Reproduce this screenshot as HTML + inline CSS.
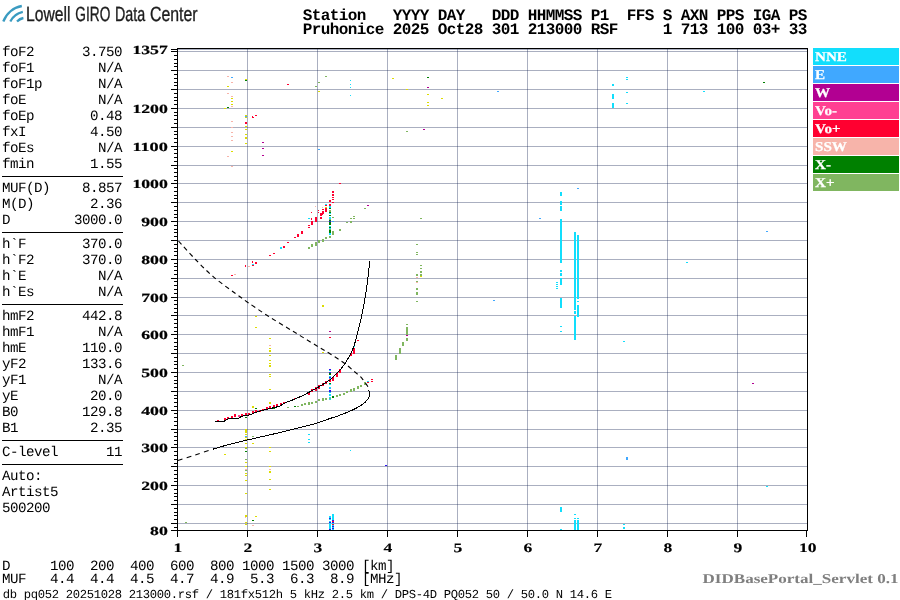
<!DOCTYPE html><html><head><meta charset="utf-8"><title>Ionogram</title><style>html,body{margin:0;padding:0;background:#fff;width:900px;height:600px;overflow:hidden}svg{display:block;will-change:transform;font-family:"Liberation Sans",sans-serif}</style></head><body><svg width="900" height="600" viewBox="0 0 900 600" shape-rendering="crispEdges">
<rect width="900" height="600" fill="#fff"/>
<g fill="rgba(25,39,85,0.37)"><rect x="178" y="523" width="629" height="1"/><rect x="178" y="504" width="629" height="1"/><rect x="178" y="485" width="629" height="1"/><rect x="178" y="466" width="629" height="1"/><rect x="178" y="447" width="629" height="1"/><rect x="178" y="429" width="629" height="1"/><rect x="178" y="410" width="629" height="1"/><rect x="178" y="391" width="629" height="1"/><rect x="178" y="372" width="629" height="1"/><rect x="178" y="353" width="629" height="1"/><rect x="178" y="334" width="629" height="1"/><rect x="178" y="315" width="629" height="1"/><rect x="178" y="297" width="629" height="1"/><rect x="178" y="278" width="629" height="1"/><rect x="178" y="259" width="629" height="1"/><rect x="178" y="240" width="629" height="1"/><rect x="178" y="221" width="629" height="1"/><rect x="178" y="202" width="629" height="1"/><rect x="178" y="183" width="629" height="1"/><rect x="178" y="165" width="629" height="1"/><rect x="178" y="146" width="629" height="1"/><rect x="178" y="127" width="629" height="1"/><rect x="178" y="108" width="629" height="1"/><rect x="178" y="89" width="629" height="1"/><rect x="178" y="70" width="629" height="1"/><rect x="178" y="51" width="629" height="1"/><rect x="178" y="49" width="629" height="1"/><rect x="247" y="49" width="1" height="481"/><rect x="317" y="49" width="1" height="481"/><rect x="387" y="49" width="1" height="481"/><rect x="457" y="49" width="1" height="481"/><rect x="527" y="49" width="1" height="481"/><rect x="597" y="49" width="1" height="481"/><rect x="667" y="49" width="1" height="481"/><rect x="737" y="49" width="1" height="481"/></g>
<g fill="#f7b4aa"><rect x="227" y="76" width="2" height="1"/></g>
<g fill="#40a8ff"><rect x="231" y="77" width="2" height="1"/></g>
<g fill="#f7b4aa"><rect x="231" y="82" width="2" height="1"/></g>
<g fill="#dcdc00"><rect x="227" y="86" width="2" height="1"/></g>
<g fill="#f7b4aa"><rect x="227" y="93" width="2" height="1"/><rect x="231" y="96" width="2" height="1"/></g>
<g fill="#dcdc00"><rect x="231" y="98" width="2" height="1"/><rect x="231" y="101" width="2" height="1"/><rect x="231" y="104" width="2" height="1"/></g>
<g fill="#f7b4aa"><rect x="231" y="106" width="2" height="1"/></g>
<g fill="#008000"><rect x="227" y="107" width="2" height="1"/></g>
<g fill="#dcdc00"><rect x="224" y="108" width="2" height="1"/><rect x="245" y="79" width="2" height="1"/></g>
<g fill="#008000"><rect x="245" y="80" width="2" height="1"/></g>
<g fill="#ff0030"><rect x="287" y="84" width="2" height="1"/></g>
<g fill="#80b660"><rect x="318" y="82" width="2" height="1"/><rect x="315" y="86" width="2" height="1"/></g>
<g fill="#dcdc00"><rect x="318" y="91" width="2" height="1"/><rect x="245" y="115" width="2" height="1"/></g>
<g fill="#40a8ff"><rect x="245" y="116" width="2" height="1"/></g>
<g fill="#dcdc00"><rect x="245" y="117" width="2" height="1"/></g>
<g fill="#ff0030"><rect x="255" y="115" width="2" height="1"/></g>
<g fill="#f7b4aa"><rect x="231" y="121" width="2" height="1"/><rect x="231" y="127" width="2" height="1"/></g>
<g fill="#dcdc00"><rect x="245" y="126" width="2" height="1"/><rect x="245" y="129" width="2" height="1"/></g>
<g fill="#f7b4aa"><rect x="231" y="132" width="2" height="1"/></g>
<g fill="#dcdc00"><rect x="245" y="134" width="2" height="1"/></g>
<g fill="#f7b4aa"><rect x="231" y="136" width="2" height="1"/><rect x="231" y="140" width="2" height="1"/></g>
<g fill="#dcdc00"><rect x="245" y="143" width="2" height="1"/></g>
<g fill="#b20092"><rect x="262" y="142" width="2" height="1"/><rect x="262" y="148" width="2" height="1"/><rect x="262" y="155" width="2" height="1"/></g>
<g fill="#dcdc00"><rect x="231" y="151" width="2" height="1"/></g>
<g fill="#f7b4aa"><rect x="227" y="156" width="2" height="1"/></g>
<g fill="#40a8ff"><rect x="318" y="149" width="2" height="1"/></g>
<g fill="#ff0030"><rect x="252" y="116" width="1" height="2"/><rect x="253" y="117" width="1" height="1"/><rect x="245" y="122" width="2" height="2"/></g>
<g fill="#dcdc00"><rect x="245" y="137" width="2" height="2"/></g>
<g fill="#80b660"><rect x="325" y="76" width="2" height="1"/></g>
<g fill="#12defc"><rect x="350" y="80" width="1" height="1"/><rect x="350" y="84" width="1" height="1"/><rect x="350" y="87" width="1" height="1"/><rect x="350" y="95" width="1" height="1"/></g>
<g fill="#dcdc00"><rect x="392" y="78" width="2" height="1"/></g>
<g fill="#008000"><rect x="427" y="77" width="2" height="1"/></g>
<g fill="#b20092"><rect x="427" y="87" width="2" height="1"/></g>
<g fill="#dcdc00"><rect x="406" y="89" width="2" height="1"/><rect x="427" y="94" width="2" height="1"/><rect x="441" y="98" width="2" height="1"/><rect x="427" y="102" width="2" height="1"/><rect x="427" y="105" width="2" height="1"/></g>
<g fill="#b20092"><rect x="423" y="129" width="2" height="1"/></g>
<g fill="#80b660"><rect x="406" y="131" width="2" height="1"/></g>
<g fill="#40a8ff"><rect x="497" y="91" width="2" height="1"/></g>
<g fill="#12defc"><rect x="612" y="84" width="2" height="2"/><rect x="612" y="94" width="2" height="5"/><rect x="612" y="103" width="2" height="5"/><rect x="626" y="77" width="2" height="1"/><rect x="626" y="79" width="2" height="1"/><rect x="626" y="92" width="2" height="1"/><rect x="626" y="103" width="2" height="1"/><rect x="703" y="91" width="2" height="1"/></g>
<g fill="#008000"><rect x="763" y="82" width="2" height="1"/></g>
<g fill="#f7b4aa"><rect x="231" y="166" width="2" height="1"/></g>
<g fill="#ff0030"><rect x="269" y="255" width="2" height="1"/><rect x="273" y="253" width="2" height="1"/></g>
<g fill="#12defc"><rect x="280" y="247" width="2" height="2"/></g>
<g fill="#ff0030"><rect x="283" y="246" width="2" height="2"/><rect x="287" y="242" width="2" height="1"/><rect x="294" y="237" width="2" height="1"/><rect x="297" y="234" width="2" height="3"/><rect x="301" y="231" width="2" height="3"/></g>
<g fill="#12defc"><rect x="308" y="218" width="2" height="1"/></g>
<g fill="#ff0030"><rect x="308" y="225" width="2" height="1"/><rect x="308" y="227" width="2" height="1"/><rect x="311" y="221" width="2" height="4"/><rect x="311" y="212" width="1" height="1"/><rect x="311" y="218" width="1" height="2"/><rect x="315" y="217" width="2" height="5"/><rect x="318" y="210" width="1" height="1"/><rect x="318" y="212" width="1" height="1"/><rect x="320" y="213" width="2" height="3"/><rect x="320" y="217" width="2" height="2"/></g>
<g fill="#f7b4aa"><rect x="315" y="206" width="1" height="1"/><rect x="322" y="207" width="1" height="1"/></g>
<g fill="#ff0030"><rect x="322" y="214" width="1" height="1"/><rect x="322" y="209" width="2" height="1"/><rect x="322" y="211" width="2" height="3"/></g>
<g fill="#12defc"><rect x="325" y="204" width="2" height="1"/></g>
<g fill="#ff0030"><rect x="325" y="205" width="2" height="1"/></g>
<g fill="#dcdc00"><rect x="325" y="207" width="2" height="1"/></g>
<g fill="#ff0030"><rect x="325" y="208" width="2" height="4"/><rect x="332" y="191" width="2" height="2"/><rect x="332" y="194" width="2" height="2"/><rect x="332" y="197" width="2" height="1"/><rect x="332" y="199" width="2" height="1"/><rect x="332" y="202" width="2" height="1"/><rect x="339" y="183" width="2" height="1"/><rect x="329" y="200" width="2" height="2"/><rect x="329" y="204" width="2" height="2"/></g>
<g fill="#12defc"><rect x="329" y="206" width="2" height="2"/></g>
<g fill="#008000"><rect x="329" y="208" width="2" height="1"/></g>
<g fill="#80b660"><rect x="329" y="210" width="2" height="2"/></g>
<g fill="#008000"><rect x="329" y="212" width="2" height="1"/></g>
<g fill="#12defc"><rect x="329" y="213" width="2" height="1"/></g>
<g fill="#008000"><rect x="329" y="215" width="2" height="1"/></g>
<g fill="#12defc"><rect x="329" y="217" width="2" height="2"/></g>
<g fill="#80b660"><rect x="329" y="219" width="2" height="1"/></g>
<g fill="#008000"><rect x="329" y="220" width="2" height="1"/></g>
<g fill="#2b14f0"><rect x="329" y="221" width="2" height="1"/></g>
<g fill="#008000"><rect x="329" y="222" width="2" height="3"/></g>
<g fill="#12defc"><rect x="329" y="226" width="2" height="1"/></g>
<g fill="#008000"><rect x="329" y="227" width="2" height="1"/></g>
<g fill="#12defc"><rect x="329" y="228" width="2" height="1"/></g>
<g fill="#80b660"><rect x="329" y="229" width="2" height="1"/></g>
<g fill="#008000"><rect x="329" y="230" width="2" height="3"/></g>
<g fill="#12defc"><rect x="329" y="233" width="2" height="2"/></g>
<g fill="#80b660"><rect x="329" y="236" width="2" height="2"/><rect x="332" y="217" width="2" height="1"/></g>
<g fill="#40a8ff"><rect x="332" y="221" width="2" height="1"/></g>
<g fill="#80b660"><rect x="308" y="247" width="2" height="2"/><rect x="311" y="244" width="2" height="3"/><rect x="315" y="242" width="2" height="4"/><rect x="318" y="240" width="2" height="3"/><rect x="322" y="239" width="2" height="3"/><rect x="325" y="237" width="2" height="2"/><rect x="332" y="231" width="2" height="4"/><rect x="339" y="229" width="2" height="2"/><rect x="346" y="222" width="2" height="1"/><rect x="350" y="221" width="2" height="2"/><rect x="350" y="218" width="2" height="1"/><rect x="353" y="218" width="2" height="1"/><rect x="353" y="216" width="2" height="1"/><rect x="364" y="208" width="2" height="1"/></g>
<g fill="#b20092"><rect x="367" y="205" width="2" height="1"/></g>
<g fill="#80b660"><rect x="416" y="244" width="2" height="1"/><rect x="420" y="218" width="2" height="1"/><rect x="416" y="252" width="2" height="1"/><rect x="416" y="254" width="2" height="1"/><rect x="416" y="281" width="2" height="1"/><rect x="416" y="301" width="2" height="1"/><rect x="420" y="265" width="2" height="1"/><rect x="420" y="268" width="2" height="1"/><rect x="420" y="271" width="2" height="2"/><rect x="420" y="274" width="2" height="2"/></g>
<g fill="#dcdc00"><rect x="420" y="276" width="2" height="1"/></g>
<g fill="#80b660"><rect x="416" y="274" width="2" height="2"/></g>
<g fill="#f7b4aa"><rect x="416" y="277" width="2" height="1"/><rect x="416" y="282" width="2" height="1"/></g>
<g fill="#80b660"><rect x="416" y="288" width="2" height="2"/><rect x="416" y="292" width="2" height="3"/></g>
<g fill="#12defc"><rect x="560" y="192" width="2" height="4"/><rect x="560" y="201" width="2" height="4"/><rect x="560" y="206" width="2" height="5"/><rect x="560" y="219" width="2" height="44"/><rect x="560" y="270" width="2" height="2"/><rect x="560" y="273" width="2" height="3"/><rect x="560" y="278" width="2" height="7"/><rect x="560" y="298" width="2" height="10"/><rect x="560" y="326" width="2" height="1"/><rect x="560" y="331" width="2" height="1"/><rect x="556" y="282" width="2" height="1"/><rect x="556" y="284" width="2" height="1"/><rect x="556" y="286" width="2" height="1"/><rect x="556" y="288" width="2" height="1"/><rect x="574" y="232" width="2" height="78"/><rect x="574" y="311" width="2" height="3"/><rect x="574" y="316" width="2" height="24"/><rect x="577" y="235" width="2" height="64"/><rect x="577" y="301" width="2" height="1"/><rect x="577" y="305" width="2" height="12"/></g>
<g fill="#40a8ff"><rect x="577" y="188" width="2" height="1"/><rect x="539" y="218" width="2" height="1"/></g>
<g fill="#12defc"><rect x="686" y="262" width="2" height="1"/><rect x="623" y="341" width="2" height="1"/></g>
<g fill="#40a8ff"><rect x="766" y="231" width="2" height="1"/></g>
<g fill="#b20092"><rect x="752" y="383" width="2" height="1"/></g>
<g fill="#12defc"><rect x="766" y="486" width="2" height="1"/></g>
<g fill="#40a8ff"><rect x="626" y="457" width="2" height="3"/></g>
<g fill="#12defc"><rect x="560" y="507" width="2" height="5"/><rect x="560" y="529" width="2" height="1"/><rect x="574" y="514" width="2" height="1"/><rect x="574" y="518" width="2" height="1"/><rect x="574" y="520" width="2" height="10"/><rect x="577" y="518" width="2" height="1"/><rect x="577" y="520" width="2" height="10"/><rect x="623" y="524" width="2" height="1"/><rect x="623" y="527" width="2" height="2"/></g>
<g fill="#40a8ff"><rect x="493" y="300" width="2" height="1"/></g>
<g fill="#80b660"><rect x="406" y="324" width="2" height="1"/><rect x="406" y="327" width="2" height="8"/></g>
<g fill="#b20092"><rect x="406" y="335" width="2" height="1"/></g>
<g fill="#80b660"><rect x="406" y="338" width="2" height="3"/><rect x="402" y="342" width="2" height="4"/><rect x="399" y="348" width="2" height="6"/><rect x="395" y="355" width="2" height="5"/></g>
<g fill="#ff0030"><rect x="252" y="261" width="1" height="2"/></g>
<g fill="#12defc"><rect x="252" y="264" width="2" height="1"/></g>
<g fill="#ff0030"><rect x="252" y="265" width="2" height="1"/><rect x="255" y="262" width="2" height="2"/><rect x="245" y="265" width="1" height="2"/></g>
<g fill="#f7b4aa"><rect x="248" y="266" width="2" height="1"/></g>
<g fill="#ff0030"><rect x="231" y="275" width="2" height="1"/></g>
<g fill="#f7b4aa"><rect x="234" y="274" width="2" height="1"/></g>
<g fill="#dcdc00"><rect x="322" y="305" width="2" height="2"/><rect x="255" y="316" width="2" height="1"/><rect x="255" y="327" width="2" height="1"/><rect x="269" y="338" width="2" height="1"/></g>
<g fill="#f7b4aa"><rect x="269" y="345" width="2" height="1"/></g>
<g fill="#dcdc00"><rect x="269" y="348" width="2" height="1"/><rect x="269" y="350" width="2" height="2"/><rect x="322" y="352" width="2" height="1"/></g>
<g fill="#80b660"><rect x="182" y="365" width="2" height="1"/></g>
<g fill="#dcdc00"><rect x="269" y="355" width="2" height="1"/><rect x="269" y="360" width="2" height="1"/><rect x="269" y="363" width="2" height="1"/><rect x="269" y="374" width="2" height="1"/><rect x="269" y="376" width="2" height="1"/><rect x="269" y="389" width="2" height="1"/><rect x="269" y="365" width="2" height="2"/><rect x="269" y="402" width="2" height="2"/><rect x="252" y="406" width="2" height="2"/></g>
<g fill="#008000"><rect x="255" y="408" width="2" height="1"/><rect x="245" y="417" width="2" height="1"/><rect x="273" y="408" width="2" height="1"/><rect x="287" y="407" width="2" height="1"/><rect x="294" y="406" width="2" height="1"/></g>
<g fill="#ff0030"><rect x="217" y="420" width="2" height="1"/><rect x="224" y="418" width="2" height="2"/><rect x="227" y="417" width="2" height="2"/><rect x="231" y="416" width="2" height="2"/><rect x="234" y="414" width="2" height="3"/><rect x="241" y="414" width="2" height="2"/><rect x="245" y="413" width="2" height="2"/><rect x="248" y="413" width="2" height="2"/><rect x="252" y="411" width="2" height="2"/><rect x="255" y="410" width="2" height="2"/><rect x="259" y="410" width="2" height="2"/><rect x="262" y="409" width="2" height="2"/><rect x="266" y="407" width="2" height="2"/><rect x="269" y="406" width="2" height="3"/><rect x="273" y="405" width="2" height="2"/><rect x="276" y="404" width="2" height="2"/><rect x="280" y="403" width="2" height="2"/><rect x="283" y="402" width="2" height="2"/><rect x="294" y="398" width="2" height="1"/><rect x="297" y="397" width="2" height="1"/><rect x="308" y="392" width="2" height="3"/><rect x="311" y="389" width="2" height="3"/><rect x="315" y="387" width="2" height="4"/><rect x="318" y="385" width="2" height="4"/><rect x="322" y="383" width="2" height="3"/><rect x="325" y="381" width="2" height="3"/><rect x="332" y="377" width="2" height="4"/><rect x="336" y="373" width="2" height="4"/><rect x="339" y="369" width="2" height="4"/><rect x="350" y="353" width="2" height="3"/><rect x="353" y="348" width="2" height="6"/></g>
<g fill="#ff4092"><rect x="238" y="415" width="2" height="2"/></g>
<g fill="#12defc"><rect x="353" y="346" width="2" height="1"/></g>
<g fill="#ff0030"><rect x="357" y="340" width="2" height="1"/><rect x="329" y="337" width="2" height="1"/></g>
<g fill="#b20092"><rect x="329" y="331" width="2" height="1"/></g>
<g fill="#dcdc00"><rect x="322" y="352" width="2" height="1"/></g>
<g fill="#2b14f0"><rect x="329" y="369" width="2" height="1"/></g>
<g fill="#12defc"><rect x="329" y="370" width="2" height="1"/></g>
<g fill="#2b14f0"><rect x="329" y="372" width="2" height="1"/></g>
<g fill="#008000"><rect x="329" y="373" width="2" height="2"/></g>
<g fill="#12defc"><rect x="329" y="376" width="2" height="1"/></g>
<g fill="#2b14f0"><rect x="329" y="377" width="2" height="1"/></g>
<g fill="#12defc"><rect x="329" y="378" width="2" height="1"/></g>
<g fill="#ff0030"><rect x="329" y="379" width="2" height="3"/></g>
<g fill="#008000"><rect x="329" y="383" width="2" height="1"/></g>
<g fill="#12defc"><rect x="329" y="384" width="2" height="1"/><rect x="329" y="387" width="2" height="1"/></g>
<g fill="#40a8ff"><rect x="329" y="388" width="2" height="1"/></g>
<g fill="#2b14f0"><rect x="329" y="390" width="2" height="2"/></g>
<g fill="#12defc"><rect x="329" y="392" width="2" height="1"/><rect x="329" y="394" width="2" height="2"/><rect x="329" y="397" width="2" height="1"/></g>
<g fill="#80b660"><rect x="329" y="398" width="2" height="1"/></g>
<g fill="#12defc"><rect x="329" y="399" width="2" height="1"/></g>
<g fill="#80b660"><rect x="287" y="407" width="2" height="1"/></g>
<g fill="#008000"><rect x="294" y="406" width="2" height="1"/></g>
<g fill="#80b660"><rect x="297" y="406" width="2" height="1"/><rect x="301" y="404" width="2" height="2"/><rect x="304" y="403" width="2" height="2"/><rect x="308" y="402" width="2" height="3"/><rect x="311" y="402" width="2" height="2"/><rect x="315" y="401" width="2" height="2"/><rect x="318" y="399" width="2" height="2"/><rect x="322" y="398" width="2" height="3"/><rect x="325" y="398" width="2" height="2"/></g>
<g fill="#008000"><rect x="332" y="396" width="2" height="2"/></g>
<g fill="#80b660"><rect x="336" y="395" width="2" height="2"/><rect x="339" y="394" width="2" height="2"/><rect x="343" y="393" width="2" height="2"/><rect x="346" y="391" width="2" height="2"/><rect x="350" y="389" width="2" height="3"/><rect x="353" y="388" width="2" height="3"/><rect x="357" y="386" width="2" height="3"/><rect x="360" y="385" width="2" height="2"/><rect x="364" y="382" width="2" height="3"/></g>
<g fill="#12defc"><rect x="367" y="381" width="2" height="1"/></g>
<g fill="#ff0030"><rect x="367" y="382" width="2" height="1"/><rect x="371" y="379" width="2" height="1"/><rect x="371" y="381" width="2" height="1"/></g>
<g fill="#dcdc00"><rect x="245" y="429" width="2" height="4"/><rect x="245" y="434" width="2" height="1"/></g>
<g fill="#40a8ff"><rect x="245" y="436" width="2" height="1"/></g>
<g fill="#dcdc00"><rect x="245" y="437" width="2" height="1"/><rect x="245" y="439" width="2" height="1"/><rect x="245" y="443" width="2" height="1"/></g>
<g fill="#008000"><rect x="245" y="451" width="2" height="1"/></g>
<g fill="#80b660"><rect x="245" y="459" width="2" height="1"/></g>
<g fill="#dcdc00"><rect x="245" y="462" width="2" height="1"/><rect x="245" y="466" width="2" height="1"/></g>
<g fill="#f7b4aa"><rect x="245" y="469" width="2" height="1"/></g>
<g fill="#80b660"><rect x="245" y="470" width="2" height="1"/></g>
<g fill="#dcdc00"><rect x="245" y="473" width="2" height="1"/><rect x="245" y="475" width="2" height="1"/><rect x="245" y="480" width="2" height="1"/><rect x="245" y="493" width="2" height="1"/><rect x="245" y="522" width="2" height="1"/><rect x="245" y="524" width="2" height="1"/></g>
<g fill="#80b660"><rect x="245" y="447" width="2" height="2"/></g>
<g fill="#dcdc00"><rect x="245" y="447" width="2" height="1"/><rect x="245" y="515" width="2" height="2"/></g>
<g fill="#f7b4aa"><rect x="245" y="517" width="1" height="1"/></g>
<g fill="#80b660"><rect x="252" y="436" width="2" height="1"/></g>
<g fill="#dcdc00"><rect x="252" y="443" width="2" height="1"/><rect x="224" y="454" width="2" height="1"/><rect x="269" y="447" width="2" height="1"/><rect x="269" y="451" width="2" height="1"/><rect x="269" y="466" width="2" height="1"/></g>
<g fill="#f7b4aa"><rect x="269" y="469" width="2" height="1"/></g>
<g fill="#dcdc00"><rect x="269" y="479" width="2" height="1"/><rect x="269" y="489" width="2" height="1"/><rect x="269" y="471" width="2" height="2"/><rect x="255" y="516" width="2" height="1"/></g>
<g fill="#008000"><rect x="252" y="520" width="2" height="1"/></g>
<g fill="#f7b4aa"><rect x="252" y="525" width="2" height="1"/></g>
<g fill="#80b660"><rect x="185" y="522" width="2" height="1"/></g>
<g fill="#12defc"><rect x="308" y="434" width="2" height="1"/><rect x="308" y="439" width="2" height="1"/><rect x="308" y="442" width="2" height="1"/><rect x="350" y="450" width="1" height="1"/></g>
<g fill="#2b14f0"><rect x="385" y="465" width="2" height="1"/></g>
<g fill="#12defc"><rect x="329" y="516" width="2" height="4"/><rect x="329" y="521" width="2" height="9"/></g>
<g fill="#2b14f0"><rect x="329" y="518" width="2" height="1"/><rect x="329" y="522" width="2" height="1"/><rect x="329" y="529" width="2" height="1"/></g>
<g fill="#12defc"><rect x="332" y="514" width="2" height="16"/></g>
<g fill="#2b14f0"><rect x="332" y="520" width="2" height="1"/></g>
<g fill="#ff0030"><rect x="332" y="521" width="2" height="1"/></g>
<g fill="#2b14f0"><rect x="332" y="522" width="2" height="1"/></g>
<g fill="#ff0030"><rect x="332" y="524" width="2" height="1"/></g>
<g fill="#2b14f0"><rect x="332" y="526" width="2" height="1"/><rect x="332" y="528" width="2" height="1"/></g>
<g fill="none" stroke="#000" stroke-width="1.2">
<path d="M178.5 241.0C181.3 244.1 189.6 253.4 195.5 259.5C201.4 265.6 207.3 271.6 214.0 277.3C220.7 283.0 229.9 289.4 235.5 293.5C241.1 297.6 242.1 298.4 247.5 302.2C252.9 305.9 260.4 311.1 268.0 316.0C275.6 320.9 284.8 326.3 293.0 331.3C301.2 336.3 310.8 342.2 317.0 346.0C323.2 349.8 325.9 351.2 330.3 354.0C334.8 356.8 339.6 359.8 343.7 362.7C347.8 365.6 351.8 369.4 354.6 371.7C357.4 374.0 359.0 375.4 360.4 376.7C361.8 378.0 362.1 378.6 362.9 379.6C363.7 380.6 364.6 381.7 365.4 382.9C366.2 384.1 367.4 385.6 367.9 386.7C368.4 387.8 368.2 388.9 368.3 389.3" stroke-dasharray="4.5 3.64" stroke-width="1.12" shape-rendering="geometricPrecision"/>
<path d="M178.0 460.5C180.8 459.6 189.2 456.9 195.0 455.0C200.8 453.1 209.6 450.2 212.5 449.3" stroke-dasharray="4.8 4.3" stroke-width="1.12" shape-rendering="geometricPrecision"/>
<path d="M368.3 390.0C368.5 390.2 369.1 390.9 369.3 391.5C369.5 392.1 369.6 392.8 369.7 393.5C369.8 394.2 369.9 394.9 369.6 395.8C369.3 396.8 368.9 397.9 367.9 399.2C366.8 400.5 365.4 402.2 363.3 403.8C361.2 405.3 357.8 407.3 355.0 408.8C352.2 410.2 349.5 411.3 346.7 412.5C343.9 413.7 341.1 414.8 338.3 415.8C335.5 416.8 333.5 417.3 330.0 418.5C326.5 419.7 322.7 421.4 317.4 423.0C312.1 424.6 303.7 426.5 298.3 427.9C292.9 429.3 290.0 430.1 285.0 431.3C280.0 432.5 274.6 433.8 268.3 435.2C262.0 436.6 254.6 438.3 247.4 440.0C240.2 441.7 230.8 444.1 225.0 445.6C219.2 447.2 214.6 448.7 212.5 449.3" shape-rendering="crispEdges" stroke-width="1"/>
<path d="M215.0 421.8L223.0 421.8L228.5 418.8L237.5 418.8" shape-rendering="crispEdges" stroke-width="1"/>
<path d="M237.5 418.8C238.4 418.3 241.0 416.6 243.0 415.9C245.0 415.2 247.2 415.5 249.7 414.8C252.1 414.1 254.6 412.7 257.7 411.7C260.8 410.7 264.8 409.9 268.3 409.0C271.9 408.1 276.1 407.3 279.0 406.3C281.9 405.3 282.3 404.2 285.5 402.8C288.7 401.4 294.4 399.4 298.3 397.6C302.2 395.9 305.8 394.0 309.0 392.3C312.2 390.6 313.8 389.7 317.4 387.6C320.9 385.5 326.6 382.5 330.3 379.6C334.0 376.7 337.2 373.0 339.7 370.3C342.1 367.6 343.1 366.5 345.0 363.6C346.9 360.7 349.4 356.1 351.0 353.0C352.6 349.9 353.1 348.8 354.3 345.0C355.5 341.2 357.1 335.2 358.3 330.3C359.5 325.4 360.5 321.6 361.7 315.6C362.9 309.6 364.6 300.7 365.7 294.3C366.8 287.9 367.3 282.6 368.0 277.0C368.7 271.4 369.5 263.6 369.8 260.9" shape-rendering="crispEdges" stroke-width="1"/>
</g>
<g fill="#000"><rect x="177" y="48" width="631" height="1"/><rect x="177" y="530" width="631" height="1"/><rect x="177" y="48" width="1" height="483"/><rect x="807" y="48" width="1" height="483"/><rect x="174" y="527" width="3" height="1"/><rect x="171" y="523" width="6" height="1"/><rect x="174" y="519" width="3" height="1"/><rect x="174" y="515" width="3" height="1"/><rect x="174" y="512" width="3" height="1"/><rect x="174" y="508" width="3" height="1"/><rect x="171" y="504" width="6" height="1"/><rect x="174" y="500" width="3" height="1"/><rect x="174" y="496" width="3" height="1"/><rect x="174" y="493" width="3" height="1"/><rect x="174" y="489" width="3" height="1"/><rect x="171" y="485" width="6" height="1"/><rect x="174" y="481" width="3" height="1"/><rect x="174" y="478" width="3" height="1"/><rect x="174" y="474" width="3" height="1"/><rect x="174" y="470" width="3" height="1"/><rect x="171" y="466" width="6" height="1"/><rect x="174" y="463" width="3" height="1"/><rect x="174" y="459" width="3" height="1"/><rect x="174" y="455" width="3" height="1"/><rect x="174" y="451" width="3" height="1"/><rect x="171" y="447" width="6" height="1"/><rect x="174" y="444" width="3" height="1"/><rect x="174" y="440" width="3" height="1"/><rect x="174" y="436" width="3" height="1"/><rect x="174" y="432" width="3" height="1"/><rect x="171" y="429" width="6" height="1"/><rect x="174" y="425" width="3" height="1"/><rect x="174" y="421" width="3" height="1"/><rect x="174" y="417" width="3" height="1"/><rect x="174" y="413" width="3" height="1"/><rect x="171" y="410" width="6" height="1"/><rect x="174" y="406" width="3" height="1"/><rect x="174" y="402" width="3" height="1"/><rect x="174" y="398" width="3" height="1"/><rect x="174" y="395" width="3" height="1"/><rect x="171" y="391" width="6" height="1"/><rect x="174" y="387" width="3" height="1"/><rect x="174" y="383" width="3" height="1"/><rect x="174" y="380" width="3" height="1"/><rect x="174" y="376" width="3" height="1"/><rect x="171" y="372" width="6" height="1"/><rect x="174" y="368" width="3" height="1"/><rect x="174" y="364" width="3" height="1"/><rect x="174" y="361" width="3" height="1"/><rect x="174" y="357" width="3" height="1"/><rect x="171" y="353" width="6" height="1"/><rect x="174" y="349" width="3" height="1"/><rect x="174" y="346" width="3" height="1"/><rect x="174" y="342" width="3" height="1"/><rect x="174" y="338" width="3" height="1"/><rect x="171" y="334" width="6" height="1"/><rect x="174" y="331" width="3" height="1"/><rect x="174" y="327" width="3" height="1"/><rect x="174" y="323" width="3" height="1"/><rect x="174" y="319" width="3" height="1"/><rect x="171" y="315" width="6" height="1"/><rect x="174" y="312" width="3" height="1"/><rect x="174" y="308" width="3" height="1"/><rect x="174" y="304" width="3" height="1"/><rect x="174" y="300" width="3" height="1"/><rect x="171" y="297" width="6" height="1"/><rect x="174" y="293" width="3" height="1"/><rect x="174" y="289" width="3" height="1"/><rect x="174" y="285" width="3" height="1"/><rect x="174" y="281" width="3" height="1"/><rect x="171" y="278" width="6" height="1"/><rect x="174" y="274" width="3" height="1"/><rect x="174" y="270" width="3" height="1"/><rect x="174" y="266" width="3" height="1"/><rect x="174" y="263" width="3" height="1"/><rect x="171" y="259" width="6" height="1"/><rect x="174" y="255" width="3" height="1"/><rect x="174" y="251" width="3" height="1"/><rect x="174" y="248" width="3" height="1"/><rect x="174" y="244" width="3" height="1"/><rect x="171" y="240" width="6" height="1"/><rect x="174" y="236" width="3" height="1"/><rect x="174" y="232" width="3" height="1"/><rect x="174" y="229" width="3" height="1"/><rect x="174" y="225" width="3" height="1"/><rect x="171" y="221" width="6" height="1"/><rect x="174" y="217" width="3" height="1"/><rect x="174" y="214" width="3" height="1"/><rect x="174" y="210" width="3" height="1"/><rect x="174" y="206" width="3" height="1"/><rect x="171" y="202" width="6" height="1"/><rect x="174" y="198" width="3" height="1"/><rect x="174" y="195" width="3" height="1"/><rect x="174" y="191" width="3" height="1"/><rect x="174" y="187" width="3" height="1"/><rect x="171" y="183" width="6" height="1"/><rect x="174" y="180" width="3" height="1"/><rect x="174" y="176" width="3" height="1"/><rect x="174" y="172" width="3" height="1"/><rect x="174" y="168" width="3" height="1"/><rect x="171" y="165" width="6" height="1"/><rect x="174" y="161" width="3" height="1"/><rect x="174" y="157" width="3" height="1"/><rect x="174" y="153" width="3" height="1"/><rect x="174" y="149" width="3" height="1"/><rect x="171" y="146" width="6" height="1"/><rect x="174" y="142" width="3" height="1"/><rect x="174" y="138" width="3" height="1"/><rect x="174" y="134" width="3" height="1"/><rect x="174" y="131" width="3" height="1"/><rect x="171" y="127" width="6" height="1"/><rect x="174" y="123" width="3" height="1"/><rect x="174" y="119" width="3" height="1"/><rect x="174" y="115" width="3" height="1"/><rect x="174" y="112" width="3" height="1"/><rect x="171" y="108" width="6" height="1"/><rect x="174" y="104" width="3" height="1"/><rect x="174" y="100" width="3" height="1"/><rect x="174" y="97" width="3" height="1"/><rect x="174" y="93" width="3" height="1"/><rect x="171" y="89" width="6" height="1"/><rect x="174" y="85" width="3" height="1"/><rect x="174" y="82" width="3" height="1"/><rect x="174" y="78" width="3" height="1"/><rect x="174" y="74" width="3" height="1"/><rect x="171" y="70" width="6" height="1"/><rect x="174" y="66" width="3" height="1"/><rect x="174" y="63" width="3" height="1"/><rect x="174" y="59" width="3" height="1"/><rect x="174" y="55" width="3" height="1"/><rect x="171" y="51" width="6" height="1"/><rect x="171" y="49" width="6" height="1"/><rect x="171" y="530" width="6" height="1"/><rect x="177" y="530" width="1" height="7"/><rect x="247" y="530" width="1" height="7"/><rect x="317" y="530" width="1" height="7"/><rect x="387" y="530" width="1" height="7"/><rect x="457" y="530" width="1" height="7"/><rect x="527" y="530" width="1" height="7"/><rect x="597" y="530" width="1" height="7"/><rect x="667" y="530" width="1" height="7"/><rect x="737" y="530" width="1" height="7"/><rect x="806" y="530" width="1" height="7"/></g>
<g shape-rendering="auto" text-rendering="geometricPrecision">
<text x="167.8" y="53.8" text-anchor="end" textLength="35.4" lengthAdjust="spacingAndGlyphs" font-family="Liberation Serif, serif" font-weight="bold" font-size="12.5" fill="#000" stroke="#000" stroke-width="0.2">1357</text>
<text x="167.8" y="112.8" text-anchor="end" textLength="35.4" lengthAdjust="spacingAndGlyphs" font-family="Liberation Serif, serif" font-weight="bold" font-size="12.5" fill="#000" stroke="#000" stroke-width="0.2">1200</text>
<text x="167.8" y="150.8" text-anchor="end" textLength="35.4" lengthAdjust="spacingAndGlyphs" font-family="Liberation Serif, serif" font-weight="bold" font-size="12.5" fill="#000" stroke="#000" stroke-width="0.2">1100</text>
<text x="167.8" y="187.8" text-anchor="end" textLength="35.4" lengthAdjust="spacingAndGlyphs" font-family="Liberation Serif, serif" font-weight="bold" font-size="12.5" fill="#000" stroke="#000" stroke-width="0.2">1000</text>
<text x="167.8" y="225.8" text-anchor="end" textLength="26.549999999999997" lengthAdjust="spacingAndGlyphs" font-family="Liberation Serif, serif" font-weight="bold" font-size="12.5" fill="#000" stroke="#000" stroke-width="0.2">900</text>
<text x="167.8" y="263.8" text-anchor="end" textLength="26.549999999999997" lengthAdjust="spacingAndGlyphs" font-family="Liberation Serif, serif" font-weight="bold" font-size="12.5" fill="#000" stroke="#000" stroke-width="0.2">800</text>
<text x="167.8" y="301.8" text-anchor="end" textLength="26.549999999999997" lengthAdjust="spacingAndGlyphs" font-family="Liberation Serif, serif" font-weight="bold" font-size="12.5" fill="#000" stroke="#000" stroke-width="0.2">700</text>
<text x="167.8" y="338.8" text-anchor="end" textLength="26.549999999999997" lengthAdjust="spacingAndGlyphs" font-family="Liberation Serif, serif" font-weight="bold" font-size="12.5" fill="#000" stroke="#000" stroke-width="0.2">600</text>
<text x="167.8" y="376.8" text-anchor="end" textLength="26.549999999999997" lengthAdjust="spacingAndGlyphs" font-family="Liberation Serif, serif" font-weight="bold" font-size="12.5" fill="#000" stroke="#000" stroke-width="0.2">500</text>
<text x="167.8" y="414.8" text-anchor="end" textLength="26.549999999999997" lengthAdjust="spacingAndGlyphs" font-family="Liberation Serif, serif" font-weight="bold" font-size="12.5" fill="#000" stroke="#000" stroke-width="0.2">400</text>
<text x="167.8" y="451.8" text-anchor="end" textLength="26.549999999999997" lengthAdjust="spacingAndGlyphs" font-family="Liberation Serif, serif" font-weight="bold" font-size="12.5" fill="#000" stroke="#000" stroke-width="0.2">300</text>
<text x="167.8" y="489.8" text-anchor="end" textLength="26.549999999999997" lengthAdjust="spacingAndGlyphs" font-family="Liberation Serif, serif" font-weight="bold" font-size="12.5" fill="#000" stroke="#000" stroke-width="0.2">200</text>
<text x="167.8" y="534.8" text-anchor="end" textLength="17.7" lengthAdjust="spacingAndGlyphs" font-family="Liberation Serif, serif" font-weight="bold" font-size="12.5" fill="#000" stroke="#000" stroke-width="0.2">80</text>
<text x="177.8" y="552" text-anchor="middle" textLength="8.8" lengthAdjust="spacingAndGlyphs" font-family="Liberation Serif, serif" font-weight="bold" font-size="13" fill="#000" stroke="#000" stroke-width="0.1">1</text>
<text x="247.8" y="552" text-anchor="middle" textLength="8.8" lengthAdjust="spacingAndGlyphs" font-family="Liberation Serif, serif" font-weight="bold" font-size="13" fill="#000" stroke="#000" stroke-width="0.1">2</text>
<text x="317.8" y="552" text-anchor="middle" textLength="8.8" lengthAdjust="spacingAndGlyphs" font-family="Liberation Serif, serif" font-weight="bold" font-size="13" fill="#000" stroke="#000" stroke-width="0.1">3</text>
<text x="387.8" y="552" text-anchor="middle" textLength="8.8" lengthAdjust="spacingAndGlyphs" font-family="Liberation Serif, serif" font-weight="bold" font-size="13" fill="#000" stroke="#000" stroke-width="0.1">4</text>
<text x="457.8" y="552" text-anchor="middle" textLength="8.8" lengthAdjust="spacingAndGlyphs" font-family="Liberation Serif, serif" font-weight="bold" font-size="13" fill="#000" stroke="#000" stroke-width="0.1">5</text>
<text x="527.8" y="552" text-anchor="middle" textLength="8.8" lengthAdjust="spacingAndGlyphs" font-family="Liberation Serif, serif" font-weight="bold" font-size="13" fill="#000" stroke="#000" stroke-width="0.1">6</text>
<text x="597.8" y="552" text-anchor="middle" textLength="8.8" lengthAdjust="spacingAndGlyphs" font-family="Liberation Serif, serif" font-weight="bold" font-size="13" fill="#000" stroke="#000" stroke-width="0.1">7</text>
<text x="667.8" y="552" text-anchor="middle" textLength="8.8" lengthAdjust="spacingAndGlyphs" font-family="Liberation Serif, serif" font-weight="bold" font-size="13" fill="#000" stroke="#000" stroke-width="0.1">8</text>
<text x="737.8" y="552" text-anchor="middle" textLength="8.8" lengthAdjust="spacingAndGlyphs" font-family="Liberation Serif, serif" font-weight="bold" font-size="13" fill="#000" stroke="#000" stroke-width="0.1">9</text>
<text x="807.8" y="552" text-anchor="middle" textLength="17.6" lengthAdjust="spacingAndGlyphs" font-family="Liberation Serif, serif" font-weight="bold" font-size="13" fill="#000" stroke="#000" stroke-width="0.1">10</text>
<rect x="813" y="48" width="86" height="17" fill="#12defc" shape-rendering="crispEdges"/>
<text transform="translate(815 61.2) scale(1.12 1)" font-family="Liberation Serif, serif" font-weight="bold" font-size="13.5" fill="#fff" stroke="#fff" stroke-width="0.25">NNE</text>
<rect x="813" y="66" width="86" height="17" fill="#40a8ff" shape-rendering="crispEdges"/>
<text transform="translate(815 79.2) scale(1.12 1)" font-family="Liberation Serif, serif" font-weight="bold" font-size="13.5" fill="#fff" stroke="#fff" stroke-width="0.25">E</text>
<rect x="813" y="84" width="86" height="17" fill="#b20092" shape-rendering="crispEdges"/>
<text transform="translate(815 97.2) scale(1.12 1)" font-family="Liberation Serif, serif" font-weight="bold" font-size="13.5" fill="#fff" stroke="#fff" stroke-width="0.25">W</text>
<rect x="813" y="102" width="86" height="17" fill="#ff4092" shape-rendering="crispEdges"/>
<text transform="translate(815 115.2) scale(1.12 1)" font-family="Liberation Serif, serif" font-weight="bold" font-size="13.5" fill="#fff" stroke="#fff" stroke-width="0.25">Vo-</text>
<rect x="813" y="120" width="86" height="17" fill="#ff0030" shape-rendering="crispEdges"/>
<text transform="translate(815 133.2) scale(1.12 1)" font-family="Liberation Serif, serif" font-weight="bold" font-size="13.5" fill="#fff" stroke="#fff" stroke-width="0.25">Vo+</text>
<rect x="813" y="138" width="86" height="17" fill="#f7b4aa" shape-rendering="crispEdges"/>
<text transform="translate(815 151.2) scale(1.12 1)" font-family="Liberation Serif, serif" font-weight="bold" font-size="13.5" fill="#fff" stroke="#fff" stroke-width="0.25">SSW</text>
<rect x="813" y="156" width="86" height="17" fill="#008000" shape-rendering="crispEdges"/>
<text transform="translate(815 169.2) scale(1.12 1)" font-family="Liberation Serif, serif" font-weight="bold" font-size="13.5" fill="#fff" stroke="#fff" stroke-width="0.25">X-</text>
<rect x="813" y="174" width="86" height="17" fill="#80b660" shape-rendering="crispEdges"/>
<text transform="translate(815 187.2) scale(1.12 1)" font-family="Liberation Serif, serif" font-weight="bold" font-size="13.5" fill="#fff" stroke="#fff" stroke-width="0.25">X+</text>
<text x="302.7 311.7 320.7 329.7 338.7 347.7 356.7 365.7 374.7 383.7 392.7 401.7 410.7 419.7 428.7 437.7 446.7 455.7 464.7 473.7 482.7 491.7 500.7 509.7 518.7 527.7 536.7 545.7 554.7 563.7 572.7 581.7 590.7 599.7 608.7 617.7 626.7 635.7 644.7 653.7 662.7 671.7 680.7 689.7 698.7 707.7 716.7 725.7 734.7 743.7 752.7 761.7 770.7 779.7 788.7 797.7" y="20" font-family="Liberation Mono, monospace" font-size="16" font-weight="bold" fill="#000" xml:space="preserve">Station   YYYY DAY   DDD HHMMSS P1  FFS S AXN PPS IGA PS</text>
<text x="302.7 311.7 320.7 329.7 338.7 347.7 356.7 365.7 374.7 383.7 392.7 401.7 410.7 419.7 428.7 437.7 446.7 455.7 464.7 473.7 482.7 491.7 500.7 509.7 518.7 527.7 536.7 545.7 554.7 563.7 572.7 581.7 590.7 599.7 608.7 617.7 626.7 635.7 644.7 653.7 662.7 671.7 680.7 689.7 698.7 707.7 716.7 725.7 734.7 743.7 752.7 761.7 770.7 779.7 788.7 797.7" y="34" font-family="Liberation Mono, monospace" font-size="16" font-weight="bold" fill="#000" xml:space="preserve">Pruhonice 2025 Oct28 301 213000 RSF     1 713 100 03+ 33</text>
<text x="2.1 10.1 18.1 26.1" y="56" font-family="Liberation Mono, monospace" font-size="14.2" fill="#000" xml:space="preserve">foF2</text>
<text x="82.1 90.1 98.1 106.1 114.1" y="56" font-family="Liberation Mono, monospace" font-size="14.2" fill="#000" xml:space="preserve">3.750</text>
<text x="2.1 10.1 18.1 26.1" y="72" font-family="Liberation Mono, monospace" font-size="14.2" fill="#000" xml:space="preserve">foF1</text>
<text x="98.1 106.1 114.1" y="72" font-family="Liberation Mono, monospace" font-size="14.2" fill="#000" xml:space="preserve">N/A</text>
<text x="2.1 10.1 18.1 26.1 34.1" y="88" font-family="Liberation Mono, monospace" font-size="14.2" fill="#000" xml:space="preserve">foF1p</text>
<text x="98.1 106.1 114.1" y="88" font-family="Liberation Mono, monospace" font-size="14.2" fill="#000" xml:space="preserve">N/A</text>
<text x="2.1 10.1 18.1" y="104" font-family="Liberation Mono, monospace" font-size="14.2" fill="#000" xml:space="preserve">foE</text>
<text x="98.1 106.1 114.1" y="104" font-family="Liberation Mono, monospace" font-size="14.2" fill="#000" xml:space="preserve">N/A</text>
<text x="2.1 10.1 18.1 26.1" y="120" font-family="Liberation Mono, monospace" font-size="14.2" fill="#000" xml:space="preserve">foEp</text>
<text x="90.1 98.1 106.1 114.1" y="120" font-family="Liberation Mono, monospace" font-size="14.2" fill="#000" xml:space="preserve">0.48</text>
<text x="2.1 10.1 18.1" y="136" font-family="Liberation Mono, monospace" font-size="14.2" fill="#000" xml:space="preserve">fxI</text>
<text x="90.1 98.1 106.1 114.1" y="136" font-family="Liberation Mono, monospace" font-size="14.2" fill="#000" xml:space="preserve">4.50</text>
<text x="2.1 10.1 18.1 26.1" y="152" font-family="Liberation Mono, monospace" font-size="14.2" fill="#000" xml:space="preserve">foEs</text>
<text x="98.1 106.1 114.1" y="152" font-family="Liberation Mono, monospace" font-size="14.2" fill="#000" xml:space="preserve">N/A</text>
<text x="2.1 10.1 18.1 26.1" y="168" font-family="Liberation Mono, monospace" font-size="14.2" fill="#000" xml:space="preserve">fmin</text>
<text x="90.1 98.1 106.1 114.1" y="168" font-family="Liberation Mono, monospace" font-size="14.2" fill="#000" xml:space="preserve">1.55</text>
<rect x="2" y="176" width="121" height="1" fill="#000" shape-rendering="crispEdges"/>
<text x="2.1 10.1 18.1 26.1 34.1 42.1" y="192" font-family="Liberation Mono, monospace" font-size="14.2" fill="#000" xml:space="preserve">MUF(D)</text>
<text x="82.1 90.1 98.1 106.1 114.1" y="192" font-family="Liberation Mono, monospace" font-size="14.2" fill="#000" xml:space="preserve">8.857</text>
<text x="2.1 10.1 18.1 26.1" y="208" font-family="Liberation Mono, monospace" font-size="14.2" fill="#000" xml:space="preserve">M(D)</text>
<text x="90.1 98.1 106.1 114.1" y="208" font-family="Liberation Mono, monospace" font-size="14.2" fill="#000" xml:space="preserve">2.36</text>
<text x="2.1" y="224" font-family="Liberation Mono, monospace" font-size="14.2" fill="#000" xml:space="preserve">D</text>
<text x="74.1 82.1 90.1 98.1 106.1 114.1" y="224" font-family="Liberation Mono, monospace" font-size="14.2" fill="#000" xml:space="preserve">3000.0</text>
<rect x="2" y="232" width="121" height="1" fill="#000" shape-rendering="crispEdges"/>
<text x="2.1 10.1 18.1" y="248" font-family="Liberation Mono, monospace" font-size="14.2" fill="#000" xml:space="preserve">h`F</text>
<text x="82.1 90.1 98.1 106.1 114.1" y="248" font-family="Liberation Mono, monospace" font-size="14.2" fill="#000" xml:space="preserve">370.0</text>
<text x="2.1 10.1 18.1 26.1" y="264" font-family="Liberation Mono, monospace" font-size="14.2" fill="#000" xml:space="preserve">h`F2</text>
<text x="82.1 90.1 98.1 106.1 114.1" y="264" font-family="Liberation Mono, monospace" font-size="14.2" fill="#000" xml:space="preserve">370.0</text>
<text x="2.1 10.1 18.1" y="280" font-family="Liberation Mono, monospace" font-size="14.2" fill="#000" xml:space="preserve">h`E</text>
<text x="98.1 106.1 114.1" y="280" font-family="Liberation Mono, monospace" font-size="14.2" fill="#000" xml:space="preserve">N/A</text>
<text x="2.1 10.1 18.1 26.1" y="296" font-family="Liberation Mono, monospace" font-size="14.2" fill="#000" xml:space="preserve">h`Es</text>
<text x="98.1 106.1 114.1" y="296" font-family="Liberation Mono, monospace" font-size="14.2" fill="#000" xml:space="preserve">N/A</text>
<rect x="2" y="304" width="121" height="1" fill="#000" shape-rendering="crispEdges"/>
<text x="2.1 10.1 18.1 26.1" y="320" font-family="Liberation Mono, monospace" font-size="14.2" fill="#000" xml:space="preserve">hmF2</text>
<text x="82.1 90.1 98.1 106.1 114.1" y="320" font-family="Liberation Mono, monospace" font-size="14.2" fill="#000" xml:space="preserve">442.8</text>
<text x="2.1 10.1 18.1 26.1" y="336" font-family="Liberation Mono, monospace" font-size="14.2" fill="#000" xml:space="preserve">hmF1</text>
<text x="98.1 106.1 114.1" y="336" font-family="Liberation Mono, monospace" font-size="14.2" fill="#000" xml:space="preserve">N/A</text>
<text x="2.1 10.1 18.1" y="352" font-family="Liberation Mono, monospace" font-size="14.2" fill="#000" xml:space="preserve">hmE</text>
<text x="82.1 90.1 98.1 106.1 114.1" y="352" font-family="Liberation Mono, monospace" font-size="14.2" fill="#000" xml:space="preserve">110.0</text>
<text x="2.1 10.1 18.1" y="368" font-family="Liberation Mono, monospace" font-size="14.2" fill="#000" xml:space="preserve">yF2</text>
<text x="82.1 90.1 98.1 106.1 114.1" y="368" font-family="Liberation Mono, monospace" font-size="14.2" fill="#000" xml:space="preserve">133.6</text>
<text x="2.1 10.1 18.1" y="384" font-family="Liberation Mono, monospace" font-size="14.2" fill="#000" xml:space="preserve">yF1</text>
<text x="98.1 106.1 114.1" y="384" font-family="Liberation Mono, monospace" font-size="14.2" fill="#000" xml:space="preserve">N/A</text>
<text x="2.1 10.1" y="400" font-family="Liberation Mono, monospace" font-size="14.2" fill="#000" xml:space="preserve">yE</text>
<text x="90.1 98.1 106.1 114.1" y="400" font-family="Liberation Mono, monospace" font-size="14.2" fill="#000" xml:space="preserve">20.0</text>
<text x="2.1 10.1" y="416" font-family="Liberation Mono, monospace" font-size="14.2" fill="#000" xml:space="preserve">B0</text>
<text x="82.1 90.1 98.1 106.1 114.1" y="416" font-family="Liberation Mono, monospace" font-size="14.2" fill="#000" xml:space="preserve">129.8</text>
<text x="2.1 10.1" y="432" font-family="Liberation Mono, monospace" font-size="14.2" fill="#000" xml:space="preserve">B1</text>
<text x="90.1 98.1 106.1 114.1" y="432" font-family="Liberation Mono, monospace" font-size="14.2" fill="#000" xml:space="preserve">2.35</text>
<rect x="2" y="440" width="121" height="1" fill="#000" shape-rendering="crispEdges"/>
<text x="2.1 10.1 18.1 26.1 34.1 42.1 50.1" y="456" font-family="Liberation Mono, monospace" font-size="14.2" fill="#000" xml:space="preserve">C-level</text>
<text x="106.1 114.1" y="456" font-family="Liberation Mono, monospace" font-size="14.2" fill="#000" xml:space="preserve">11</text>
<rect x="2" y="464" width="121" height="1" fill="#000" shape-rendering="crispEdges"/>
<text x="2.1 10.1 18.1 26.1 34.1" y="480" font-family="Liberation Mono, monospace" font-size="14.2" fill="#000" xml:space="preserve">Auto:</text>
<text x="2.1 10.1 18.1 26.1 34.1 42.1 50.1" y="496" font-family="Liberation Mono, monospace" font-size="14.2" fill="#000" xml:space="preserve">Artist5</text>
<text x="2.1 10.1 18.1 26.1 34.1 42.1" y="512" font-family="Liberation Mono, monospace" font-size="14.2" fill="#000" xml:space="preserve">500200</text>
<text x="2.1 10.1 18.1 26.1 34.1 42.1 50.1 58.1 66.1 74.1 82.1 90.1 98.1 106.1 114.1 122.1 130.1 138.1 146.1 154.1 162.1 170.1 178.1 186.1 194.1 202.1 210.1 218.1 226.1 234.1 242.1 250.1 258.1 266.1 274.1 282.1 290.1 298.1 306.1 314.1 322.1 330.1 338.1 346.1 354.1 362.1 370.1 378.1 386.1" y="569.6" font-family="Liberation Mono, monospace" font-size="14.2" fill="#000" xml:space="preserve">D     100  200  400  600  800 1000 1500 3000 [km]</text>
<text x="2.1 10.1 18.1 26.1 34.1 42.1 50.1 58.1 66.1 74.1 82.1 90.1 98.1 106.1 114.1 122.1 130.1 138.1 146.1 154.1 162.1 170.1 178.1 186.1 194.1 202.1 210.1 218.1 226.1 234.1 242.1 250.1 258.1 266.1 274.1 282.1 290.1 298.1 306.1 314.1 322.1 330.1 338.1 346.1 354.1 362.1 370.1 378.1 386.1 394.1" y="582.6" font-family="Liberation Mono, monospace" font-size="14.2" fill="#000" xml:space="preserve">MUF   4.4  4.4  4.5  4.7  4.9  5.3  6.3  8.9 [MHz]</text>
<text x="2.8 9.8 16.8 23.8 30.8 37.8 44.8 51.8 58.8 65.8 72.8 79.8 86.8 93.8 100.8 107.8 114.8 121.8 128.8 135.8 142.8 149.8 156.8 163.8 170.8 177.8 184.8 191.8 198.8 205.8 212.8 219.8 226.8 233.8 240.8 247.8 254.8 261.8 268.8 275.8 282.8 289.8 296.8 303.8 310.8 317.8 324.8 331.8 338.8 345.8 352.8 359.8 366.8 373.8 380.8 387.8 394.8 401.8 408.8 415.8 422.8 429.8 436.8 443.8 450.8 457.8 464.8 471.8 478.8 485.8 492.8 499.8 506.8 513.8 520.8 527.8 534.8 541.8 548.8 555.8 562.8 569.8 576.8 583.8 590.8 597.8 604.8" y="597.6" font-family="Liberation Mono, monospace" font-size="12.2" fill="#000" xml:space="preserve">db pq052 20251028 213000.rsf / 181fx512h 5 kHz 2.5 km / DPS-4D PQ052 50 / 50.0 N 14.6 E</text>
<text x="898.5" y="583" text-anchor="end" textLength="196" lengthAdjust="spacingAndGlyphs" font-family="Liberation Serif, serif" font-weight="bold" font-size="13.5" fill="#7f7f7f" >DIDBasePortal_Servlet 0.1</text>
<text x="26" y="21.2" textLength="44.5" lengthAdjust="spacingAndGlyphs" font-family="Liberation Sans, sans-serif" font-size="20.6" fill="#1c1c1c" stroke="#1c1c1c" stroke-width="0.35">Lowell</text>
<text x="75.3" y="21.2" textLength="35" lengthAdjust="spacingAndGlyphs" font-family="Liberation Sans, sans-serif" font-size="20.6" fill="#1c1c1c" stroke="#1c1c1c" stroke-width="0.35">GIRO</text>
<text x="115" y="21.2" textLength="30.2" lengthAdjust="spacingAndGlyphs" font-family="Liberation Sans, sans-serif" font-size="20.6" fill="#1c1c1c" stroke="#1c1c1c" stroke-width="0.35">Data</text>
<text x="150" y="21.2" textLength="47.6" lengthAdjust="spacingAndGlyphs" font-family="Liberation Sans, sans-serif" font-size="20.6" fill="#1c1c1c" stroke="#1c1c1c" stroke-width="0.35">Center</text>
<g fill="none" stroke="#3a9bc1" stroke-width="2.3" stroke-linecap="butt"><path d="M3.3 21.5 A24.4 24.4 0 0 1 21.8 6"/><path d="M10.3 21.5 A18.2 18.2 0 0 1 22.8 11.8"/><path d="M17 21.5 A12.3 12.3 0 0 1 23.4 18"/></g>
</g>
</svg></body></html>
